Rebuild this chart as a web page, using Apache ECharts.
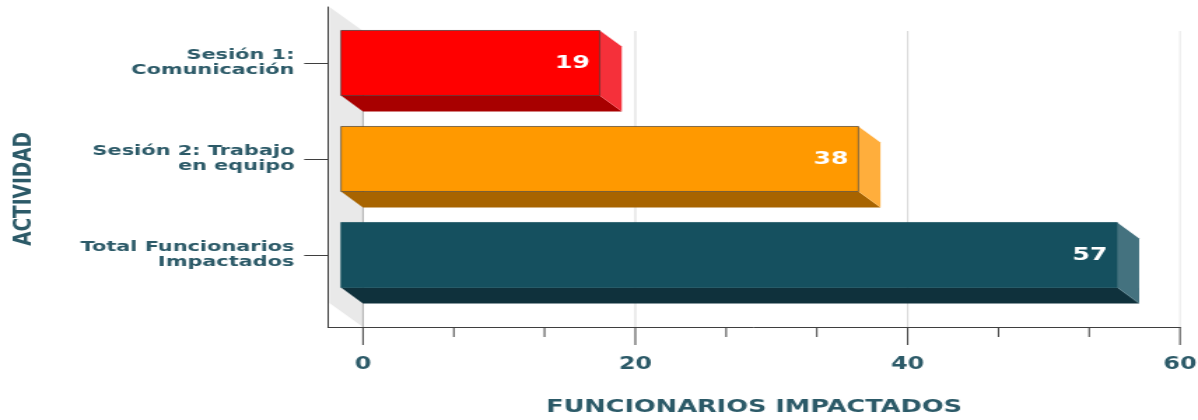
<!DOCTYPE html>
<html>
<head>
<meta charset="utf-8">
<style>
html,body{margin:0;padding:0;background:#fff;overflow:hidden}
#c{width:856px;height:420px;transform:scaleX(1.3995);transform-origin:0 0}
</style>
<script src="https://cdn.jsdelivr.net/npm/echarts@6/dist/echarts.min.js"></script>
</head>
<body>
<div id="c"></div>
<script>
const categories = ['Sesión 1:\nComunicación', 'Sesión 2: Trabajo\nen equipo', 'Total Funcionarios\nImpactados'];
const values = [19, 38, 57];
const faceColors = ['#ff0000', '#ff9900', '#15505f'];
const bottomColors = ['#a80000', '#a86400', '#0f313c'];
const sideColors = ['#f5303a', '#ffae3c', '#44727f'];
const edgeColors = ['#4a2a2a', '#4a4030', '#15505f'];
const majorTicks = [0, 20, 40, 60];
const minorTicks = [6.67, 13.33, 26.67, 33.33, 46.67, 53.33];
const gridColors = ['#9a9a9a', '#cfcfcf', '#cfcfcf', '#e2e2e2'];

const S = 1.3995, DX = 22 / S, DY = 16, BAR_H = 65;
const textColor = '#2c5a68', axisColor = '#3f3f3f';
const xMin = -2.57, xMax = 60, yMin = -0.083, yMax = 3.25;
const FONT = 'DejaVu Sans';

const tickSeries = (ticks, len) => ({
  type: 'custom', silent: true, clip: false, z: 6,
  data: ticks.map(v => [v]),
  encode: {x: 0},
  renderItem: (p, api) => {
    const b = api.coord([api.value(0), yMax]);
    return {type: 'line', shape: {x1: b[0], y1: b[1], x2: b[0], y2: b[1] + len},
      style: {stroke: axisColor, lineWidth: 1}};
  }
});

const chart = echarts.init(document.getElementById('c'), null, {renderer: 'canvas'});
chart.setOption({
  animation: false,
  backgroundColor: '#fff',
  grid: {left: 328 / S, width: 852 / S, top: 7, height: 320, outerBoundsMode: 'none'},
  xAxis: {
    type: 'value', min: xMin, max: xMax, position: 'bottom', z: 5,
    name: 'FUNCIONARIOS IMPACTADOS', nameLocation: 'middle', nameGap: 71,
    nameTextStyle: {color: textColor, fontFamily: FONT, fontWeight: 'bold', fontSize: 18.3},
    axisLine: {show: true, onZero: false, lineStyle: {color: axisColor, width: 1}},
    axisTick: {show: false},
    axisLabel: {customValues: majorTicks, margin: 29, color: textColor,
      fontFamily: FONT, fontWeight: 'bold', fontSize: 17, showMinLabel: true, showMaxLabel: true},
    splitLine: {show: false}
  },
  yAxis: {
    type: 'value', inverse: true, min: yMin, max: yMax, z: 5,
    name: 'ACTIVIDAD', nameLocation: 'middle', nameGap: 208,
    nameTextStyle: {color: textColor, fontFamily: FONT, fontWeight: 'bold', fontSize: 18.5,
      padding: [0, 44, 0, 0]},
    axisLine: {show: true, onZero: false, lineStyle: {color: axisColor, width: 1}},
    axisTick: {show: true, length: 17, customValues: [0.5, 1.5, 2.5], lineStyle: {color: axisColor}},
    axisLabel: {
      customValues: [0.5, 1.5, 2.5], margin: 24, align: 'right',
      color: textColor, fontFamily: FONT, fontWeight: 'bold', fontSize: 14.9, lineHeight: 15,
      formatter: v => categories[Math.floor(v)]
    },
    splitLine: {show: false}
  },
  series: [{
    type: 'custom', silent: true, clip: false, z: 1,
    data: [[0]],
    encode: {x: 0},
    renderItem: (p, api) => {
      const a = api.coord([xMin, yMin]), b = api.coord([0, yMin]);
      const c = api.coord([0, yMax]), d = api.coord([xMin, yMax]);
      return {type: 'polygon', shape: {points: [[a[0] + 1, a[1]], [b[0], b[1] + 24], c, [d[0] + 1, d[1] - 24]]},
        style: {fill: '#e9e9e9'}};
    }
  }, {
    type: 'custom', silent: true, clip: false, z: 2,
    data: majorTicks.map(v => [v]),
    encode: {x: 0},
    renderItem: (p, api) => {
      const t = api.coord([api.value(0), yMin]), b = api.coord([api.value(0), yMax]);
      return {type: 'line', shape: {x1: t[0], y1: t[1] + 24, x2: b[0], y2: b[1]},
        style: {stroke: gridColors[p.dataIndex], lineWidth: 0.8}};
    }
  }, {
    type: 'custom', silent: true, clip: false, z: 3,
    data: values.map((v, i) => [v, i + 0.5]),
    encode: {x: 0, y: 1},
    renderItem: (p, api) => {
      const i = p.dataIndex, v = api.value(0), row = api.value(1);
      const c = api.coord([v, row]), z = api.coord([0, row]);
      const top = c[1] - BAR_H / 2, bot = c[1] + BAR_H / 2;
      const r = c[0] - DX, l = z[0] - DX;
      return {type: 'group', children: [
        {type: 'polygon', shape: {points: [[l, bot], [r, bot], [c[0], bot + DY], [z[0], bot + DY]]},
          style: {fill: bottomColors[i]}},
        {type: 'polygon', shape: {points: [[r, top], [c[0], top + DY], [c[0], bot + DY], [r, bot]]},
          style: {fill: sideColors[i]}},
        {type: 'rect', shape: {x: l, y: top, width: r - l, height: BAR_H},
          style: {fill: faceColors[i], stroke: edgeColors[i], lineWidth: 0.7}},
        {type: 'text', x: r - 7, y: c[1],
          style: {text: String(v), fill: '#fff', align: 'right', verticalAlign: 'middle',
            font: 'bold 18px "DejaVu Sans"'}}
      ]};
    }
  }, tickSeries(majorTicks, 18), tickSeries(minorTicks, 10)]
});
</script>
</body>
</html>
